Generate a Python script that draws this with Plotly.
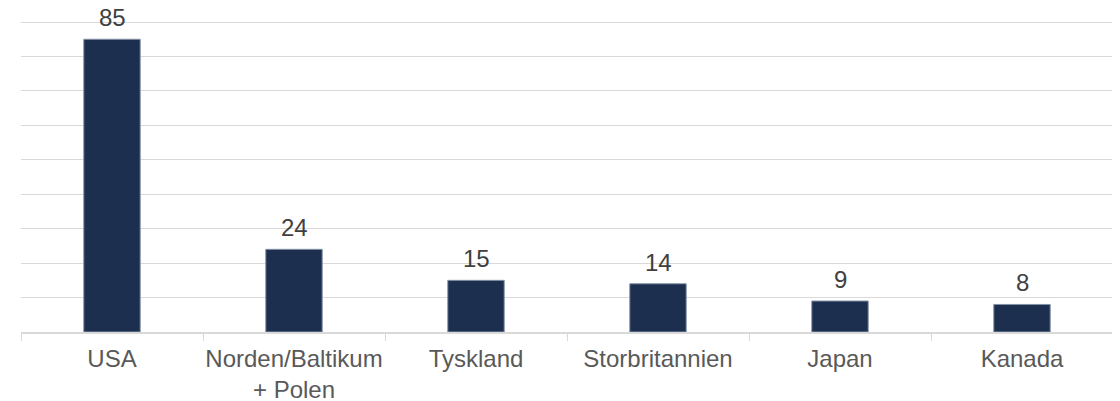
import plotly.graph_objects as go

# Data
regions = ["USA", "Norden/Baltikum<br>+ Polen", "Tyskland", "Storbritannien", "Japan", "Kanada"]
values = [85, 24, 15, 14, 9, 8]

fig = go.Figure(go.Bar(
    x=regions, y=values,
    marker=dict(color="#1c2f4f", line=dict(color="#8592a6", width=1)),
))

# value labels above the bars
for r, v in zip(regions, values):
    fig.add_annotation(x=r, y=v, text=str(v), showarrow=False, yanchor="bottom",
                       yshift=6, font=dict(size=24, color="#404040"))

# page body has an 8px margin, so the figure is sized to fit inside it
fig.update_layout(
    width=1112, height=393,
    margin=dict(l=13, r=7, t=13, b=69),
    plot_bgcolor="white", paper_bgcolor="white",
    font=dict(family="Liberation Sans, Arial", size=24, color="#595959"),
    bargap=0.69, showlegend=False,
)
fig.update_xaxes(
    showline=True, linecolor="#d9d9d9", linewidth=1.5,
    ticks="outside", tickson="boundaries", ticklen=7, tickcolor="#d9d9d9",
    tickfont=dict(size=24, color="#595959"), automargin=False,
    ticklabelstandoff=4, tickangle=0,
)
fig.update_yaxes(
    range=[0, 90.3], dtick=10, showticklabels=False,
    gridcolor="#d9d9d9", gridwidth=1.3, zeroline=False, automargin=False,
)

fig.write_html("out.html")
